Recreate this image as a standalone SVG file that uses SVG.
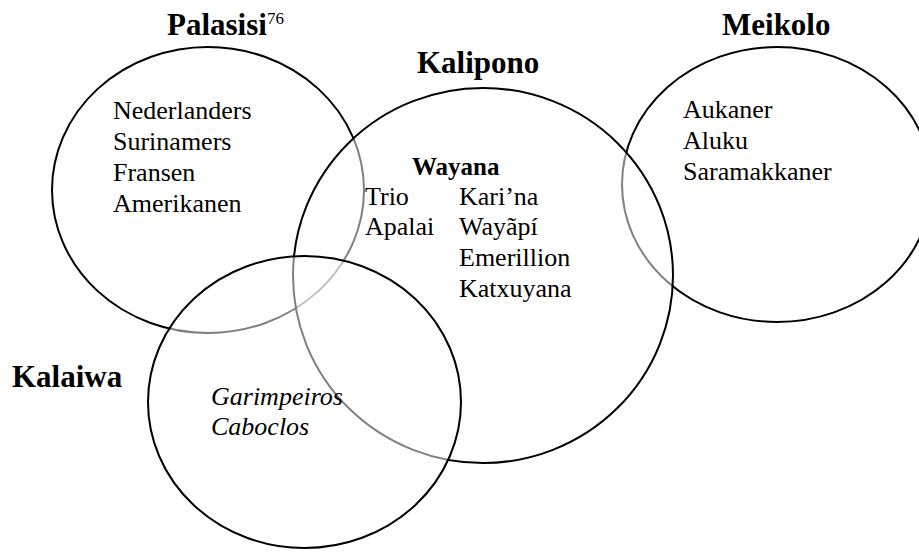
<svg xmlns="http://www.w3.org/2000/svg" width="919" height="552" viewBox="0 0 919 552">
  <style>
    .ring { fill: #ffffff; fill-opacity: 0.5; stroke: #000000; stroke-width: 2; }
    text { font-family: 'Liberation Serif', 'DejaVu Serif', serif; fill: #000; }
    .title { font-weight: bold; font-size: 31px; }
    .item { font-size: 26px; }
    .sub { font-weight: bold; font-size: 25px; }
    .em { font-style: italic; }
    .sup { font-size: 17px; }
  </style>
  <rect width="919" height="552" fill="#ffffff"/>

  <!-- group sets; drawing order decides which outlines are softened by overlapping fills -->
  <g id="palasisi">
    <ellipse class="ring" cx="208" cy="190" rx="156" ry="143"/>
    <text class="title" x="167" y="35">Palasisi</text>
    <text class="sup" x="267" y="24">76</text>
    <text class="item" x="113" y="119">Nederlanders</text>
    <text class="item" x="113" y="150">Surinamers</text>
    <text class="item" x="113" y="181">Fransen</text>
    <text class="item" x="113" y="212">Amerikanen</text>
  </g>

  <g id="meikolo">
    <ellipse class="ring" cx="777" cy="184.5" rx="155" ry="137.5"/>
    <text class="title" x="722" y="35">Meikolo</text>
    <text class="item" x="683" y="118">Aukaner</text>
    <text class="item" x="683" y="149">Aluku</text>
    <text class="item" x="683" y="180">Saramakkaner</text>
  </g>

  <g id="kalipono">
    <ellipse class="ring" cx="483" cy="275.5" rx="190" ry="187.5"/>
    <text class="title" x="417" y="73">Kalipono</text>
    <text class="sub" x="412" y="175">Wayana</text>
    <text class="item" x="365" y="205">Trio</text>
    <text class="item" x="365" y="235">Apalai</text>
    <text class="item" x="459" y="205">Kari’na</text>
    <text class="item" x="459" y="235">Wayãpí</text>
    <text class="item" x="459" y="266">Emerillion</text>
    <text class="item" x="459" y="297">Katxuyana</text>
  </g>

  <g id="kalaiwa">
    <ellipse class="ring" cx="304.5" cy="402" rx="156.5" ry="146"/>
    <text class="title" x="12" y="387">Kalaiwa</text>
    <text class="item em" x="211" y="405">Garimpeiros</text>
    <text class="item em" x="211" y="435">Caboclos</text>
  </g>

  <g id="connectors"/>
</svg>
